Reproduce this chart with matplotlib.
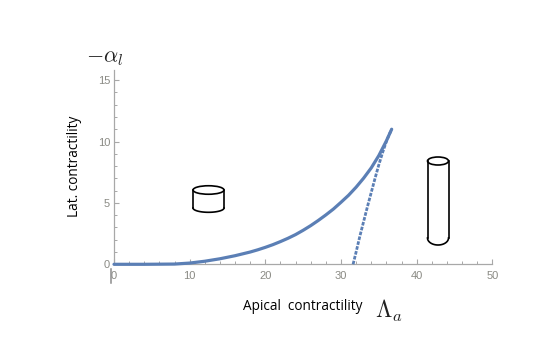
import numpy as np
import matplotlib
matplotlib.use("Agg")
import matplotlib.pyplot as plt
from matplotlib.patches import Ellipse
from matplotlib.lines import Line2D

plt.rcParams['mathtext.fontset'] = 'cm'

# Data
upper_x = [0, 4, 8, 10, 12, 14, 16, 18, 19, 20, 21, 22, 23, 24, 25, 26, 27, 28, 29, 30, 31, 32, 33, 34, 35, 36, 36.7]
upper_y = [0, 0, 0.02, 0.1, 0.25, 0.45, 0.7, 1.0, 1.18, 1.38, 1.6, 1.85, 2.12, 2.42, 2.77, 3.15, 3.57, 4.02, 4.5, 5.05, 5.62, 6.28, 7.02, 7.85, 8.85, 10.05, 11.0]
lower_x = [31.6, 32.0, 32.5, 33.0, 33.5, 34.0, 34.5, 35.0, 35.5, 36.0, 36.4, 36.7]
lower_y = [0.0, 1.0, 2.3, 3.5, 4.7, 5.85, 7.0, 8.1, 9.1, 10.0, 10.6, 11.0]
x_major = [0, 10, 20, 30, 40, 50]
y_major = [0, 5, 10, 15]
x_minor = [2, 4, 6, 8, 12, 14, 16, 18, 22, 24, 26, 28, 32, 34, 36, 38, 42, 44, 46, 48]
y_minor = [1, 2, 3, 4, 6, 7, 8, 9, 11, 12, 13, 14]

W, H = 554, 346
fig = plt.figure(figsize=(W / 100, H / 100), dpi=100)
L, R, B, T = 114, 492.3, 264.3, 70
ax = fig.add_axes([L / W, 1 - B / H, (R - L) / W, (B - T) / H])
ax.set_xlim(0, 50)
ax.set_ylim(0, (B - T) / 12.28)
for s in ('top', 'right'):
    ax.spines[s].set_visible(False)
for s in ('left', 'bottom'):
    ax.spines[s].set_color('#a8a8a8')
    ax.spines[s].set_linewidth(0.9)
ax.set_xticks(x_major)
ax.set_yticks(y_major)
ax.set_xticks(x_minor, minor=True)
ax.set_yticks(y_minor, minor=True)
ax.tick_params(which='major', direction='in', length=3.6, width=0.8, color='#a8a8a8',
               labelsize=8, labelcolor='#8a8a84', labelfontfamily='Liberation Sans')
ax.tick_params(axis='x', which='major', pad=4.5)
ax.tick_params(axis='y', which='major', pad=2.8)
ax.tick_params(which='minor', direction='in', length=2.3, width=0.7, color='#a8a8a8')

blue = '#5b7fb5'
ax.plot(upper_x, upper_y, color=blue, lw=2.3, solid_capstyle='round', clip_on=False, zorder=3)
ax.plot(lower_x, lower_y, color=blue, lw=2.0, ls=(0, (1.3, 0.5)), clip_on=False, zorder=3)


def px(x, y):
    return x / W, 1 - y / H


def cylinder(cx, top, bottom, w, eh, depth):
    t = fig.transFigure
    kw = dict(transform=t, fill=False, ec='black', lw=1.2)
    fig.add_artist(Ellipse(px(cx, top), w / W, eh / H, **kw))
    for xv in (cx - w / 2, cx + w / 2):
        xs, ys = zip(px(xv, top), px(xv, bottom))
        fig.add_artist(Line2D(xs, ys, transform=t, color='black', lw=1.2))
    a = np.linspace(0, np.pi, 40)
    xs = (cx + w / 2 * np.cos(a)) / W
    ys = 1 - (bottom + depth * np.sin(a)) / H
    fig.add_artist(Line2D(xs, ys, transform=t, color='black', lw=1.2))


cylinder(208.5, 190, 208, 31, 8.5, 4.3)
cylinder(438, 161, 238, 21, 8, 7)

# axis mark below origin
xs, ys = zip(px(111, 269), px(111, 283))
fig.add_artist(Line2D(xs, ys, color='#8c8c8c', lw=1.1))

sans = ['Open Sans', 'DejaVu Sans']
fig.text(*px(75, 166), 'Lat. contractility', rotation=90, ha='center', va='center',
         family=sans, fontsize=9.8, color='black')
fig.text(*px(302.5, 307), 'Apical  contractility', ha='center', va='center',
         family=sans, fontsize=9.8, color='black')
fig.text(*px(105, 58), r'$-\alpha_l$', ha='center', va='center', fontsize=16, color='#222222')
fig.text(*px(389, 311), r'$\Lambda_a$', ha='center', va='center', fontsize=17, color='#222222')

fig.savefig('out.png', dpi=100)
